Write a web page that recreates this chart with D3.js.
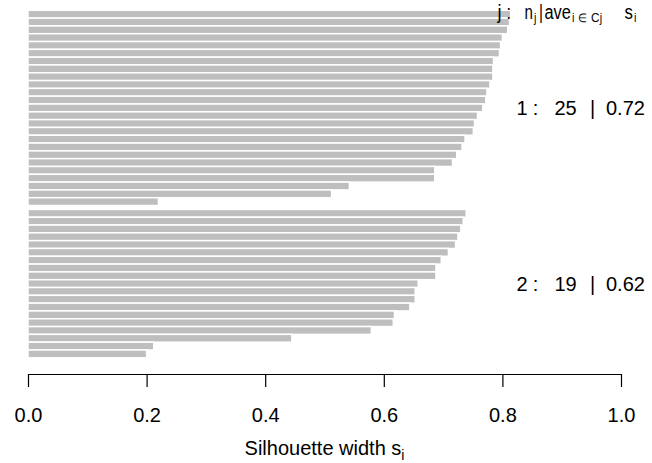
<!DOCTYPE html>
<html><head><meta charset="utf-8">
<script src="https://cdn.jsdelivr.net/npm/d3@7"></script>
<style>
body{margin:0;background:#fff}
text{font-family:"Liberation Sans",Arial,sans-serif;fill:#000}
</style>
</head><body>
<svg id="c" width="652" height="463"></svg>
<script>
// ---- data ----
const clusterIds = [1, 2];
const cluster1Widths = [0.814, 0.812, 0.809, 0.800, 0.797, 0.795, 0.785, 0.784, 0.784, 0.779,
                        0.774, 0.772, 0.767, 0.758, 0.753, 0.751, 0.737, 0.732, 0.723, 0.716,
                        0.686, 0.686, 0.542, 0.512, 0.220];
const cluster2Widths = [0.739, 0.734, 0.730, 0.725, 0.721, 0.709, 0.697, 0.688, 0.688, 0.658,
                        0.653, 0.653, 0.644, 0.618, 0.616, 0.579, 0.445, 0.212, 0.200];
const xTickValues = [0.0, 0.2, 0.4, 0.6, 0.8, 1.0];
const xAxisTitle = "Silhouette width s";
const xAxisTitleSub = "i";

// ---- layout ----
const svg = d3.select("#c");
const x = d3.scaleLinear().domain([0, 1]).range([28, 621]);

const groups = [cluster1Widths, cluster2Widths];
const rows = [];
const groupInfo = [];
let pos = 0;
groups.forEach((arr, gi) => {
  if (gi > 0) pos += 0.5;
  const start = pos;
  arr.forEach(v => { rows.push({ cluster: clusterIds[gi], v, pos }); pos += 1; });
  groupInfo.push({ id: clusterIds[gi], n: arr.length, ave: d3.mean(arr), mid: (start + pos) / 2 });
});
const y = d3.scaleLinear().domain([0, pos]).range([10.3, 357.8]);

// bars
svg.append("g").selectAll("rect").data(rows).join("rect")
  .attr("x", x(0))
  .attr("y", d => y(d.pos))
  .attr("width", d => x(d.v) - x(0))
  .attr("height", d => y(d.pos + 1) - y(d.pos))
  .attr("fill", "#bebebe")
  .attr("stroke", "#fff")
  .attr("stroke-width", 1.5);

// x axis
const axisY = 374;
const ax = svg.append("g").attr("transform", `translate(0,${axisY})`)
  .call(d3.axisBottom(x).tickValues(xTickValues).tickFormat(d3.format(".1f"))
        .tickSize(13).tickSizeOuter(0));
ax.select(".domain").attr("stroke", "#000").attr("stroke-width", 1.2);
ax.selectAll(".tick line").attr("stroke", "#000").attr("stroke-width", 1.2);
ax.selectAll(".tick text").attr("y", 48.3).attr("dy", 0)
  .style("font-family", '"Liberation Sans",Arial,sans-serif').style("font-size", "20px").attr("fill", "#000");

// axis title
const t = svg.append("text").attr("x", (x(0) + x(1)) / 2).attr("y", 455)
  .attr("text-anchor", "middle").style("font-size", "20px");
t.append("tspan").text(xAxisTitle);
t.append("tspan").text(xAxisTitleSub).style("font-size", "14px").attr("dy", 5);

// header: j :  n_j | ave_{i∈Cj} s_i  (narrow glyphs as in the reference)
const h = svg.append("g");
function piece(px, py, str, size, len) {
  const e = h.append("text").attr("x", px).attr("y", py).style("font-size", size + "px").text(str);
  if (len) e.attr("textLength", len).attr("lengthAdjust", "spacingAndGlyphs");
  return e;
}
piece(497.5, 19, "j", 20, 4);
piece(506.5, 19, ":", 20, 4.5);
piece(524.6, 19, "n", 20, 8.4);
piece(534, 22, "j", 13, 2.4);
piece(539, 19, "|", 20, 4);
piece(544.4, 19, "ave", 20, 26.4);
piece(572, 22, "i", 13, 2.4);
piece(578, 22, "∈", 12, 8.5);
piece(591, 22, "C", 13, 8.5);
piece(599.8, 22, "j", 13, 2.4);
piece(624.6, 19, "s", 20, 8.4);
piece(634, 22, "i", 13, 2.4);

// cluster summaries
groupInfo.forEach(g => {
  const yy = y(g.mid) + 7.5;
  const tx = svg.append("text").attr("y", yy).style("font-size", "20px");
  tx.append("tspan").attr("x", 516.5).text(String(g.id));
  tx.append("tspan").attr("x", 532.8).text(":");
  tx.append("tspan").attr("x", 554.5).text(String(g.n));
  tx.append("tspan").attr("x", 590).text("|");
  tx.append("tspan").attr("x", 606).text(d3.format(".2f")(g.ave));
});
</script>
</body></html>
